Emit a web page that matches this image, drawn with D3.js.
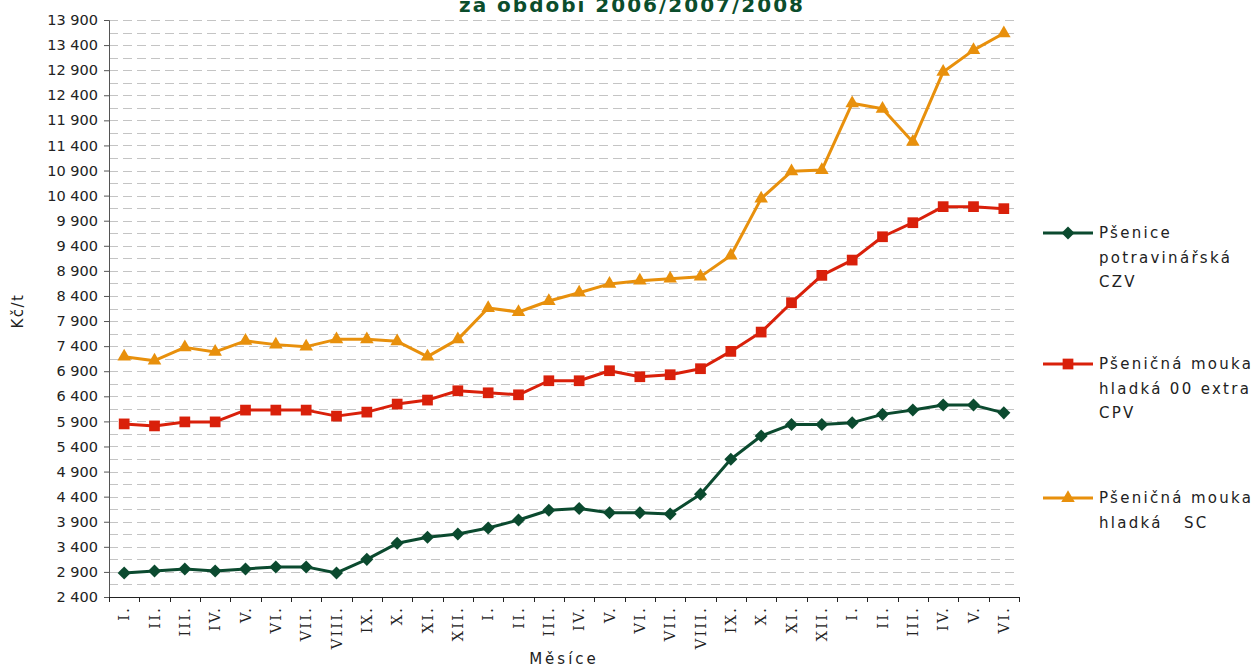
<!DOCTYPE html>
<html>
<head>
<meta charset="utf-8">
<script src="https://cdn.jsdelivr.net/npm/d3@7"></script>
<style>
  body { margin: 0; background: #fff; }
  svg { display: block; }
</style>
</head>
<body>
<div id="chart"></div>
<script>
// months across 2006 - mid 2008
var months = ["I.","II.","III.","IV.","V.","VI.","VII.","VIII.","IX.","X.","XI.","XII.",
              "I.","II.","III.","IV.","V.","VI.","VII.","VIII.","IX.","X.","XI.","XII.",
              "I.","II.","III.","IV.","V.","VI."];

var wheatCZV = [2880, 2920, 2960, 2920, 2960, 3000, 3000, 2880, 3150, 3470, 3590, 3655,
                3775, 3935, 4130, 4165, 4080, 4080, 4055, 4450, 5145, 5610, 5840, 5840,
                5875, 6040, 6125, 6225, 6225, 6070];
var flour00 = [5850, 5810, 5890, 5890, 6125, 6125, 6125, 6005, 6085, 6245, 6325, 6510,
               6470, 6430, 6710, 6710, 6910, 6790, 6830, 6950, 7295, 7680, 8265, 8810,
               9115, 9580, 9860, 10180, 10180, 10140];
var flourSC = [7190, 7110, 7375, 7285, 7505, 7430, 7390, 7535, 7535, 7495, 7190, 7535,
               8160, 8080, 8300, 8465, 8640, 8705, 8745, 8785, 9205, 10340, 10885, 10910,
               12240, 12130, 11470, 12865, 13300, 13635];

var yTicks = d3.range(2400, 13901, 500);

var series = [
    {name: ["Pšenice", "potravinářská", "CZV"], values: wheatCZV, color: "#0b4a2f", symbol: "diamond", ly: 233},
    {name: ["Pšeničná mouka", "hladká 00 extra", "CPV"], values: flour00, color: "#d9200a", symbol: "square", ly: 364},
    {name: ["Pšeničná mouka", "hladká   SC"], values: flourSC, color: "#e8900c", symbol: "triangle", ly: 498}
];

var W = 1257, H = 668;
var margin = {top: 20, right: 238, bottom: 71, left: 109};
var width = W - margin.left - margin.right;
var height = H - margin.top - margin.bottom;

var svg = d3.select("#chart").append("svg")
    .attr("width", W)
    .attr("height", H);

var graph = svg.append("g")
    .attr("transform", "translate(" + margin.left + "," + margin.top + ")");

var x = d3.scaleBand()
    .domain(d3.range(months.length))
    .range([0, width]);

var y = d3.scaleLinear()
    .domain([2400, 13900])
    .range([height, 0]);

// dashed grid every 250
graph.append("g")
    .selectAll("line")
    .data(d3.range(2650, 13901, 250))
    .enter()
    .append("line")
    .attr("x1", 0)
    .attr("x2", width)
    .attr("y1", function (d) { return Math.round(y(d)) + 0.5; })
    .attr("y2", function (d) { return Math.round(y(d)) + 0.5; })
    .attr("stroke", "#c4c4c4")
    .attr("stroke-dasharray", "9,5");

var fmt = d3.formatLocale({decimal: ",", thousands: " ", grouping: [3], currency: ["", ""]}).format(",");

var yAxis = d3.axisLeft(y)
    .tickValues(yTicks)
    .tickSize(5)
    .tickPadding(6)
    .tickFormat(fmt);

var yAxisGroup = graph.append("g").call(yAxis);
yAxisGroup.select(".domain").attr("stroke", "#555");
yAxisGroup.selectAll(".tick line").attr("stroke", "#555");
yAxisGroup.selectAll("text")
    .attr("font-family", "DejaVu Sans, Verdana, sans-serif")
    .attr("font-size", "14.5px")
    .attr("fill", "#222");

// x axis: ticks sit between categories
var xAxisGroup = graph.append("g")
    .attr("transform", "translate(0," + height + ")");
xAxisGroup.append("line")
    .attr("x1", 0).attr("x2", width)
    .attr("y1", 0.5).attr("y2", 0.5)
    .attr("stroke", "#222");
xAxisGroup.selectAll(".xtick")
    .data(d3.range(months.length + 1))
    .enter()
    .append("line")
    .attr("class", "xtick")
    .attr("x1", function (d) { return Math.round(d * x.step()) + 0.5; })
    .attr("x2", function (d) { return Math.round(d * x.step()) + 0.5; })
    .attr("y1", 0)
    .attr("y2", 5)
    .attr("stroke", "#222");
xAxisGroup.selectAll(".xlabel")
    .data(months)
    .enter()
    .append("text")
    .attr("class", "xlabel")
    .attr("transform", function (d, i) {
        return "translate(" + (x(i) + x.bandwidth() / 2) + ",9) rotate(-90)";
    })
    .attr("dy", "0.35em")
    .attr("text-anchor", "end")
    .attr("font-family", "DejaVu Serif, serif")
    .attr("font-size", "14.5px")
    .attr("letter-spacing", "2.2px")
    .attr("fill", "#222")
    .text(function (d) { return d; });

// axis titles
svg.append("text")
    .attr("x", 564)
    .attr("y", 664)
    .attr("text-anchor", "middle")
    .attr("font-family", "DejaVu Sans, Verdana, sans-serif")
    .attr("font-size", "15px")
    .attr("letter-spacing", "3px")
    .attr("fill", "#222")
    .text("Měsíce");

svg.append("text")
    .attr("transform", "translate(23,311) rotate(-90)")
    .attr("text-anchor", "middle")
    .attr("font-family", "DejaVu Sans, Verdana, sans-serif")
    .attr("font-size", "15px")
    .attr("letter-spacing", "1.5px")
    .attr("fill", "#222")
    .text("Kč/t");

svg.append("text")
    .attr("x", 632)
    .attr("y", 12)
    .attr("text-anchor", "middle")
    .attr("font-family", "DejaVu Sans, Verdana, sans-serif")
    .attr("font-weight", "bold")
    .attr("font-size", "20px")
    .attr("letter-spacing", "2px")
    .attr("fill", "#0b4d2c")
    .text("za období 2006/2007/2008");

function marker(kind) {
    if (kind === "diamond") return d3.symbol().type(d3.symbolSquare).size(85)();
    if (kind === "square") return d3.symbol().type(d3.symbolSquare).size(115)();
    return d3.symbol().type(d3.symbolTriangle).size(80)();
}

var line = d3.line()
    .x(function (d, i) { return x(i) + x.bandwidth() / 2; })
    .y(function (d) { return y(d); });

series.forEach(function (s) {
    graph.append("path")
        .datum(s.values)
        .attr("fill", "none")
        .attr("stroke", s.color)
        .attr("stroke-width", 3)
        .attr("stroke-linejoin", "round")
        .attr("d", line);

    graph.selectAll(".m-" + s.symbol)
        .data(s.values)
        .enter()
        .append("path")
        .attr("class", "m-" + s.symbol)
        .attr("d", marker(s.symbol))
        .attr("fill", s.color)
        .attr("transform", function (d, i) {
            var t = "translate(" + (x(i) + x.bandwidth() / 2) + "," + y(d) + ")";
            return s.symbol === "diamond" ? t + " rotate(45)" : t;
        });
});

// legend
var legend = svg.append("g");
series.forEach(function (s) {
    var g = legend.append("g").attr("transform", "translate(1043," + s.ly + ")");
    g.append("line")
        .attr("x1", 0).attr("x2", 50)
        .attr("stroke", s.color)
        .attr("stroke-width", 3);
    g.append("path")
        .attr("d", marker(s.symbol))
        .attr("fill", s.color)
        .attr("transform", "translate(25,0)" + (s.symbol === "diamond" ? " rotate(45)" : ""));
    g.selectAll("text")
        .data(s.name)
        .enter()
        .append("text")
        .attr("x", 56)
        .attr("y", function (d, i) { return i * 24.6; })
        .attr("dy", "0.35em")
        .attr("font-family", "DejaVu Sans, Verdana, sans-serif")
        .attr("font-size", "15px")
        .attr("letter-spacing", "2.3px")
        .attr("fill", "#222")
        .style("white-space", "pre")
        .text(function (d) { return d; });
});
</script>
</body>
</html>
